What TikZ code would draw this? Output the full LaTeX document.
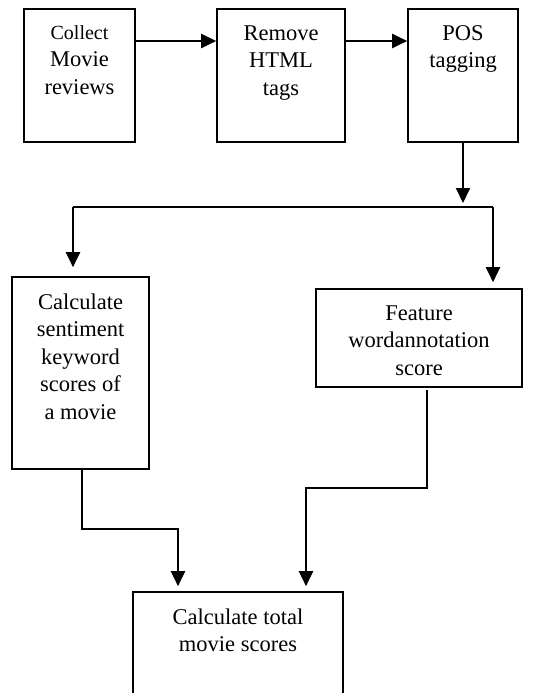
\documentclass[tikz,border=0pt]{standalone}
\usepackage{fontspec}
\setmainfont{Liberation Serif}
\usetikzlibrary{arrows.meta,positioning}

\begin{document}
\begin{tikzpicture}[x=1pt,y=-1pt,
  box/.style={draw, line width=1.6pt, inner sep=0pt},
  lbl/.style={align=center, inner sep=0pt, font=\fontsize{22.5}{27.5}\selectfont},
  arr/.style={line width=2pt, -{Triangle[length=15pt,width=14pt]}},
  line/.style={line width=2pt}]
  \useasboundingbox (0,0) rectangle (547,693);
  \clip (0,0) rectangle (547,693);
  % Top row of steps
  \node[box, minimum width=111pt, minimum height=133pt] (collect) at (79.5,75.5) {};
  \node[box, minimum width=128pt, minimum height=133pt] (html)    at (281,75.5)  {};
  \node[box, minimum width=110pt, minimum height=133pt] (pos)     at (463,75.5)  {};
  \node[lbl, below=17pt of collect.north] {{\fontsize{20}{27.5}\selectfont Collect}\\Movie\\reviews};
  \node[lbl, below=17pt of html.north] {Remove\\HTML\\tags};
  \node[lbl, below=17pt of pos.north] {POS\\tagging};
  % Second row and the last step (its bottom edge is cut off)
  \node[box, minimum width=137pt, minimum height=192pt] (keyword) at (80.5,373) {};
  \node[box, minimum width=206pt, minimum height=98pt]  (feature) at (419,338)  {};
  \node[box, minimum width=210pt, minimum height=140pt] (total)   at (238,662)  {};
  \node[lbl, below=17pt of keyword.north] {Calculate\\sentiment\\keyword\\scores of\\a movie};
  \node[lbl, below=17pt of feature.north] {Feature\\wordannotation\\score};
  \node[lbl, below=17pt of total.north] {Calculate total\\movie scores};
  % Arrows
  \coordinate (row) at (0,41);
  \draw[arr] (collect.east |- row) -- (html.west |- row);
  \draw[arr] (html.east |- row) -- (pos.west |- row);
  \coordinate (sl) at (73,207);
  \coordinate (sr) at (493,207);
  \draw[arr, shorten >=4pt] (pos.south) -- (pos.south |- sl);
  \draw[line] (sl) -- (sr);
  \draw[arr, shorten >=9pt] (sl) -- (sl |- keyword.north);
  \draw[arr, shorten >=6pt] (sr) -- (sr |- feature.north);
  \coordinate (ml) at (178,529);
  \coordinate (mr) at (306,488);
  \draw[arr, shorten >=5pt] ([xshift=1.5pt]keyword.south) |- (ml) -- (ml |- total.north);
  \draw[arr, shorten >=5pt] ([xshift=8pt,yshift=-2pt]feature.south) |- (mr) -- (mr |- total.north);
\end{tikzpicture}
\end{document}
